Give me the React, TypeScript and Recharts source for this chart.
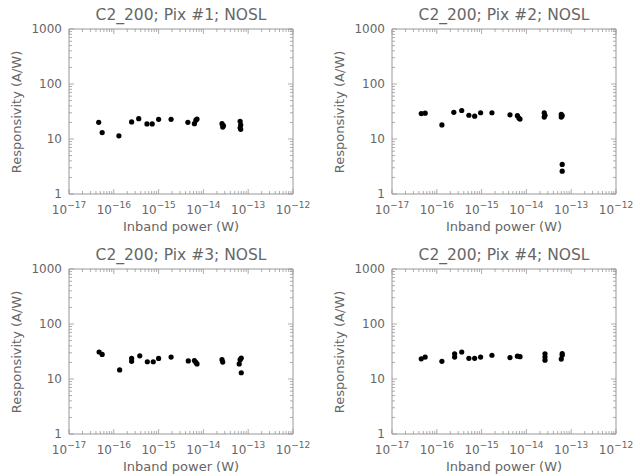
import { ScatterChart, Scatter, XAxis, YAxis } from "recharts";

// Inband power (W) and responsivity (A/W) for each pixel
const pix1Power = [4.6e-17, 5.5e-17, 1.3e-16, 2.5e-16, 3.6e-16, 5.5e-16, 7.2e-16, 1.0e-15, 1.9e-15, 4.5e-15, 6.3e-15, 6.8e-15, 7.2e-15, 2.6e-14, 2.7e-14, 2.8e-14, 6.6e-14, 6.8e-14, 6.6e-14, 6.8e-14];
const pix1Resp = [20.1, 13.1, 11.4, 20.4, 23.4, 18.8, 18.8, 22.8, 22.8, 20.1, 19.0, 22.0, 23.0, 19.0, 16.5, 17.5, 21.0, 18.0, 16.0, 15.0];

const pix2Power = [4.5e-17, 5.5e-17, 1.3e-16, 2.4e-16, 3.6e-16, 5.2e-16, 7.0e-16, 9.5e-16, 1.7e-15, 4.3e-15, 6.3e-15, 6.8e-15, 7.2e-15, 2.5e-14, 2.6e-14, 2.5e-14, 6.0e-14, 6.3e-14, 6.0e-14, 6.3e-14, 6.3e-14];
const pix2Resp = [29.0, 29.5, 18.0, 30.5, 33.0, 27.0, 26.0, 30.0, 30.0, 27.5, 26.5, 24.0, 23.0, 30.0, 27.0, 25.0, 28.0, 26.5, 25.0, 3.45, 2.6];

const pix3Power = [4.7e-17, 5.5e-17, 1.35e-16, 2.5e-16, 2.5e-16, 3.8e-16, 5.6e-16, 7.6e-16, 1.0e-15, 1.9e-15, 4.6e-15, 6.3e-15, 6.8e-15, 7.2e-15, 2.6e-14, 2.7e-14, 6.3e-14, 6.6e-14, 7.0e-14, 7.0e-14];
const pix3Resp = [31.0, 28.0, 14.6, 23.7, 21.0, 26.4, 20.6, 20.6, 23.7, 25.0, 21.3, 21.6, 20.0, 18.8, 22.5, 20.3, 18.8, 22.5, 24.0, 13.0];

const pix4Power = [4.5e-17, 5.5e-17, 1.3e-16, 2.5e-16, 2.5e-16, 3.6e-16, 5.2e-16, 7.0e-16, 9.5e-16, 1.7e-15, 4.3e-15, 6.3e-15, 7.2e-15, 2.6e-14, 2.6e-14, 2.6e-14, 6.0e-14, 6.3e-14, 6.3e-14];
const pix4Resp = [23.3, 25.0, 21.0, 28.7, 25.0, 31.0, 23.8, 23.8, 25.0, 27.0, 24.5, 26.0, 25.5, 28.7, 25.0, 22.0, 23.0, 29.0, 27.0];

const pixels = [
  { title: "C2_200; Pix #1; NOSL", power: pix1Power, resp: pix1Resp },
  { title: "C2_200; Pix #2; NOSL", power: pix2Power, resp: pix2Resp },
  { title: "C2_200; Pix #3; NOSL", power: pix3Power, resp: pix3Resp },
  { title: "C2_200; Pix #4; NOSL", power: pix4Power, resp: pix4Resp },
];

const xDecades = [-17, -16, -15, -14, -13, -12];
const yDecades = [0, 1, 2, 3];

// major ticks at each decade, minor ticks at 2..9 in between
const logTicks = (decades: number[]) => {
  const out: number[] = [];
  decades.forEach((d, i) => {
    out.push(Math.pow(10, d));
    if (i < decades.length - 1) for (let m = 2; m <= 9; m++) out.push(m * Math.pow(10, d));
  });
  return out;
};
const xTicks = logTicks(xDecades);
const yTicks = logTicks(yDecades);

// plot box of each panel on the page
const boxes = [
  { left: 69, top: 29 },
  { left: 392, top: 29 },
  { left: 69, top: 269 },
  { left: 392, top: 269 },
];
const PLOT_W = 224;
const PLOT_H = 165;
const Y_AXIS_W = 69;
const X_AXIS_H = 42;
const RIGHT_PAD = 26;
const TOP_PAD = 28;

const INK = "#666";
const FRAME = "#999";
const FONT = "'DejaVu Sans', sans-serif";

const isMajor = (v: number) => {
  const l = Math.log10(v);
  return Math.abs(l - Math.round(l)) < 1e-6;
};

function XTick(props: any) {
  const { x, y, payload, side } = props;
  const v = payload.value;
  const major = isMajor(v);
  const len = major ? 5 : 3;
  const dir = side === "bottom" ? -1 : 1;
  const exp = Math.round(Math.log10(v));
  return (
    <g>
      <line x1={x} x2={x} y1={y} y2={y + dir * len} stroke={FRAME} strokeWidth={0.8} />
      {side === "bottom" && major && (
        <text x={x} y={y + 20} textAnchor="middle" fill={INK} fontSize={12} fontFamily={FONT}>
          10
          <tspan dy={-6} fontSize={9}>
            {"−" + Math.abs(exp)}
          </tspan>
        </text>
      )}
    </g>
  );
}

function YTick(props: any) {
  const { x, y, payload, side } = props;
  const v = payload.value;
  const major = isMajor(v);
  const len = major ? 5 : 3;
  const dir = side === "left" ? 1 : -1;
  return (
    <g>
      <line x1={x} x2={x + dir * len} y1={y} y2={y} stroke={FRAME} strokeWidth={0.8} />
      {side === "left" && major && (
        <text x={x - 7} y={y + 4} textAnchor="end" fill={INK} fontSize={12} fontFamily={FONT}>
          {String(v)}
        </text>
      )}
    </g>
  );
}

const Dot = (props: any) => <circle cx={props.cx} cy={props.cy} r={2.6} fill="#000" />;
const NoDot = () => <g />;

function Panel({ idx }: { idx: number }) {
  const p = pixels[idx];
  const box = boxes[idx];
  const data = p.power.map((w, i) => ({ power: w, resp: p.resp[i] }));
  const chartW = Y_AXIS_W + PLOT_W + 1 + RIGHT_PAD;
  const chartH = TOP_PAD + 1 + PLOT_H + X_AXIS_H;
  const cx = box.left + PLOT_W / 2;
  return (
    <>
      <div
        style={{
          position: "absolute",
          left: cx - 120,
          width: 240,
          top: box.top - 24,
          textAlign: "center",
          fontSize: 15.5,
          color: INK,
          fontFamily: FONT,
          lineHeight: "20px",
        }}
      >
        {p.title}
      </div>
      <div style={{ position: "absolute", left: box.left - Y_AXIS_W, top: box.top - TOP_PAD - 1 }}>
        <ScatterChart width={chartW} height={chartH} margin={{ top: TOP_PAD, right: RIGHT_PAD, bottom: 0, left: 0 }}>
          <XAxis
            xAxisId="bottom"
            dataKey="power"
            type="number"
            scale="log"
            domain={[1e-17, 1e-12]}
            allowDataOverflow
            ticks={xTicks}
            interval={0}
            height={X_AXIS_H}
            tickSize={0}
            tickMargin={0}
            tickLine={false}
            axisLine={{ stroke: FRAME }}
            tick={<XTick side="bottom" />}
          />
          <XAxis
            xAxisId="top"
            orientation="top"
            dataKey="power"
            type="number"
            scale="log"
            domain={[1e-17, 1e-12]}
            allowDataOverflow
            ticks={xTicks}
            interval={0}
            height={1}
            tickSize={0}
            tickMargin={0}
            tickLine={false}
            axisLine={{ stroke: FRAME }}
            tick={<XTick side="top" />}
          />
          <YAxis
            yAxisId="left"
            dataKey="resp"
            type="number"
            scale="log"
            domain={[1, 1000]}
            allowDataOverflow
            ticks={yTicks}
            interval={0}
            width={Y_AXIS_W}
            tickSize={0}
            tickMargin={0}
            tickLine={false}
            axisLine={{ stroke: FRAME }}
            tick={<YTick side="left" />}
          />
          <YAxis
            yAxisId="right"
            orientation="right"
            dataKey="resp"
            type="number"
            scale="log"
            domain={[1, 1000]}
            allowDataOverflow
            ticks={yTicks}
            interval={0}
            width={1}
            tickSize={0}
            tickMargin={0}
            tickLine={false}
            axisLine={{ stroke: FRAME }}
            tick={<YTick side="right" />}
          />
          {/* binds the top/right frame axes so they get drawn */}
          <Scatter data={data} xAxisId="top" yAxisId="right" shape={NoDot} isAnimationActive={false} />
          <Scatter data={data} xAxisId="bottom" yAxisId="left" shape={Dot} isAnimationActive={false} />
        </ScatterChart>
      </div>
      <div
        style={{
          position: "absolute",
          left: cx - 120,
          width: 240,
          top: box.top + PLOT_H + 24,
          textAlign: "center",
          fontSize: 13,
          color: INK,
          fontFamily: FONT,
          lineHeight: "18px",
        }}
      >
        Inband power (W)
      </div>
      <div
        style={{
          position: "absolute",
          left: box.left - 52 - 100,
          width: 200,
          top: box.top + PLOT_H / 2 - 9,
          textAlign: "center",
          fontSize: 13,
          color: INK,
          fontFamily: FONT,
          lineHeight: "18px",
          transform: "rotate(-90deg)",
        }}
      >
        Responsivity (A/W)
      </div>
    </>
  );
}

export default function App() {
  return (
    <div style={{ position: "absolute", left: 0, top: 0, width: 635, height: 475, background: "#fff", overflow: "hidden" }}>
      {pixels.map((_, i) => (
        <Panel key={i} idx={i} />
      ))}
    </div>
  );
}
